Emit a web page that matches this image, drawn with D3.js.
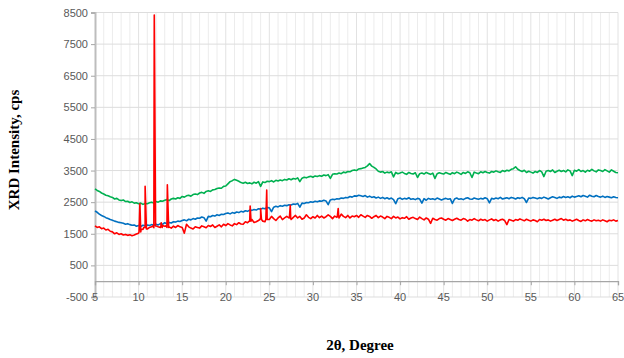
<!DOCTYPE html>
<html>
<head>
<meta charset="utf-8">
<script src="https://cdn.jsdelivr.net/npm/d3@7"></script>
<style>
  body { margin: 0; background: #fff; }
  svg { display: block; }
</style>
</head>
<body>
<div id="chart"></div>
<script>
// 2-theta grid, 0.25 degree steps from 5 to 65
const twoTheta = d3.range(0, 241).map(i => 5 + i * 0.25);

const greenValues = [
  2920, 2870, 2840, 2790, 2760, 2720, 2700, 2670,
  2650, 2600, 2620, 2570, 2550, 2570, 2520, 2530,
  2490, 2510, 2470, 2480, 2450, 2470, 2430, 2460,
  2450, 2480, 2500, 2470, 2520, 2500, 2540, 2530,
  2560, 2580, 2550, 2600, 2620, 2600, 2640, 2620,
  2680, 2660, 2700, 2720, 2690, 2740, 2760, 2740,
  2790, 2810, 2780, 2840, 2860, 2840, 2890, 2900,
  2930, 2950, 2940, 3000, 3010, 3080, 3150, 3180,
  3220, 3190, 3160, 3120, 3100, 3130, 3090, 3110,
  3080, 3130, 3100, 3150, 3000, 3140, 3120, 3160,
  3150, 3180, 3140, 3190, 3170, 3200, 3180, 3220,
  3200, 3240, 3210, 3250, 3230, 3270, 3150, 3260,
  3290, 3270, 3300, 3320, 3290, 3330, 3310, 3340,
  3320, 3360, 3340, 3370, 3250, 3380, 3400, 3390,
  3420, 3400, 3450, 3430, 3470, 3460, 3500, 3520,
  3500, 3550, 3560, 3580, 3600, 3650, 3720, 3640,
  3600, 3550, 3480, 3450, 3470, 3420, 3450, 3430,
  3460, 3300, 3440, 3400, 3420, 3450, 3410, 3380,
  3440, 3410, 3390, 3430, 3280, 3400, 3420, 3390,
  3440, 3410, 3380, 3420, 3250, 3400, 3430, 3410,
  3390, 3440, 3410, 3380, 3430, 3400, 3450, 3420,
  3380, 3440, 3410, 3460, 3430, 3280, 3450, 3420,
  3400, 3460, 3430, 3470, 3440, 3420, 3470, 3450,
  3490, 3460, 3440, 3500, 3470, 3510, 3490, 3540,
  3560, 3620, 3540, 3500, 3470, 3510, 3440, 3480,
  3450, 3420, 3470, 3440, 3500, 3460, 3310, 3480,
  3500, 3470, 3520, 3440, 3480, 3510, 3470, 3500,
  3460, 3520, 3490, 3340, 3510, 3480, 3530, 3470,
  3500, 3450, 3510, 3480, 3540, 3490, 3460, 3520,
  3500, 3470, 3530, 3490, 3450, 3520, 3480, 3440,
  3430
];

const blueValues = [
  2220, 2180, 2120, 2080, 2050, 2010, 1980, 1950,
  1930, 1900, 1880, 1860, 1850, 1830, 1800, 1820,
  1790, 1770, 1780, 1740, 1760, 1730, 1770, 1750,
  1780, 1760, 1790, 1770, 1800, 1780, 1820, 1800,
  1850, 1820, 1860, 1840, 1880, 1870, 1900, 1890,
  1920, 1940, 1910, 1960, 1940, 1980, 1960, 2000,
  1990, 2030, 2010, 1900, 2050, 2040, 2080, 2060,
  2100, 2080, 2120, 2110, 2140, 2160, 2130, 2170,
  2150, 2190, 2170, 2210, 2190, 2230, 2210, 2250,
  2240, 2270, 2250, 2290, 2280, 2310, 2290, 2330,
  2320, 2200, 2340, 2370, 2350, 2390, 2370, 2400,
  2390, 2420, 2410, 2440, 2430, 2460, 2340, 2470,
  2460, 2490, 2480, 2510, 2500, 2530, 2510, 2540,
  2530, 2560, 2540, 2420, 2570, 2590, 2580, 2610,
  2600, 2630, 2620, 2650, 2640, 2680, 2660, 2700,
  2690, 2720, 2700, 2680, 2710, 2660, 2690, 2650,
  2670, 2630, 2660, 2620, 2650, 2610, 2640, 2600,
  2630, 2580, 2450, 2610, 2630, 2590, 2620, 2600,
  2640, 2590, 2610, 2580, 2620, 2600, 2470, 2610,
  2560, 2620, 2590, 2610, 2580, 2630, 2600, 2570,
  2600, 2620, 2590, 2610, 2460, 2600, 2630, 2590,
  2610, 2580, 2620, 2640, 2600, 2590, 2630, 2610,
  2590, 2620, 2600, 2640, 2610, 2480, 2620, 2600,
  2630, 2610, 2650, 2600, 2620, 2640, 2610, 2650,
  2630, 2600, 2640, 2620, 2650, 2610, 2490, 2630,
  2620, 2650, 2630, 2610, 2640, 2620, 2660, 2630,
  2600, 2640, 2670, 2650, 2620, 2660, 2640, 2680,
  2650, 2670, 2640, 2690, 2660, 2680, 2700, 2670,
  2710, 2690, 2660, 2720, 2690, 2670, 2710, 2680,
  2660, 2690, 2650, 2680, 2660, 2640, 2670, 2650,
  2640
];

const redValues = [
  1750, 1700, 1720, 1660, 1680, 1620, 1640, 1580,
  1560, 1500, 1530, 1480, 1500, 1460, 1480, 1450,
  1470, 1440, 1460, 1490, 1520, 1560, 1640, 1700,
  1650, 1700, 1720, 1690, 1750, 1720, 1700, 1760,
  1740, 1700, 1720, 1680, 1740, 1700, 1760, 1720,
  1700, 1520, 1800, 1720, 1680, 1650, 1720, 1700,
  1680, 1750, 1720, 1690, 1760, 1730, 1780, 1700,
  1740, 1780, 1720, 1800, 1760, 1820, 1780, 1750,
  1820, 1790, 1850, 1810, 1800, 1880, 1850, 1900,
  1950, 1860, 1880, 1920, 2000, 1900, 1880, 1950,
  1950, 2050, 1980, 1920, 2000, 2060, 1950, 2000,
  2050, 2000, 1950, 2020, 2080, 2000, 2050, 1960,
  2000, 2100, 2020, 1980, 2040, 2000, 2080, 2010,
  2060, 2000, 2040, 2100, 2050, 1980, 2060, 2020,
  2000, 2120, 2050, 2010, 2080, 2000, 2060, 2040,
  2080, 2020, 2100, 2060, 2020, 2080, 2050, 1990,
  2040, 2080, 2010, 2060, 2030, 1980, 2050, 2020,
  1980, 2050, 2000, 2030, 1970, 2010, 1990, 2040,
  1960, 2000, 2020, 1980, 1950, 2030, 1980, 1940,
  2000, 1960, 1830, 1990, 1950, 1930, 1980, 2000,
  1960, 1930, 1980, 1950, 1920, 1960, 1990, 1950,
  1930, 1980, 1960, 1900, 1950, 1930, 1980, 1940,
  1910, 1960, 1930, 1950, 1900, 1940, 1970, 1920,
  1950, 1900, 1940, 1960, 1920, 1790, 1950, 1930,
  1900, 1950, 1930, 1970, 1940, 1910, 1960, 1930,
  1900, 1940, 1920, 1880, 1950, 1930, 1960, 1920,
  1940, 1900, 1930, 1960, 1920, 1950, 1980, 1930,
  1960, 1920, 1940, 1900, 1930, 1960, 1920, 1890,
  1940, 1910, 1950, 1920, 1900, 1940, 1910, 1930,
  1900, 1940, 1910, 1880, 1930, 1910, 1940, 1900,
  1920
];

// sharp diffraction peaks of the red sample: [2theta, cps]
const redPeaks = [
  [10.05, 1550], [10.15, 2450], [10.3, 1650],
  [10.6, 1700], [10.75, 3000], [10.9, 1650],
  [11.65, 1750], [11.8, 8420], [11.95, 1750],
  [12.55, 1750], [12.6, 1850], [12.7, 1700],
  [13.15, 1750], [13.3, 3050], [13.45, 1700],
  [22.7, 1900], [22.8, 2380], [22.9, 1900],
  [23.9, 1950], [24.0, 2300], [24.1, 1950],
  [24.6, 1950], [24.7, 2880], [24.8, 1950],
  [27.3, 2000], [27.4, 2400], [27.45, 2000],
  [32.8, 2050], [32.9, 2300], [32.95, 2050]
];

const xTicks = [5, 10, 15, 20, 25, 30, 35, 40, 45, 50, 55, 60, 65];
const yTicks = [-500, 500, 1500, 2500, 3500, 4500, 5500, 6500, 7500, 8500];

const width = 624;
const height = 358;

const svg = d3.select('#chart')
  .append('svg')
  .attr('width', width)
  .attr('height', height);

const x = d3.scaleLinear().domain([5, 65]).range([95, 618]);
const y = d3.scaleLinear().domain([-500, 8500]).range([297, 12.5]);

// vertical minor gridlines every degree
svg.append('g')
  .selectAll('line')
  .data(d3.range(6, 65.5, 1))
  .enter()
  .append('line')
  .attr('x1', d => x(d)).attr('x2', d => x(d))
  .attr('y1', y(8500)).attr('y2', y(-500))
  .attr('stroke', d => d % 5 === 0 ? '#e2e2e2' : '#ececec')
  .attr('stroke-width', 1);

// horizontal gridlines
svg.append('g')
  .selectAll('line')
  .data(yTicks)
  .enter()
  .append('line')
  .attr('x1', x(5)).attr('x2', x(65))
  .attr('y1', d => y(d)).attr('y2', d => y(d))
  .attr('stroke', '#dddddd')
  .attr('stroke-width', 1);

// y axis
const yAxis = svg.append('g')
  .attr('transform', `translate(${x(5)},0)`)
  .call(d3.axisLeft(y).tickValues(yTicks).tickSize(4).tickPadding(3)
    .tickFormat(d => String(d)));
yAxis.select('.domain').attr('stroke', '#bdbdbd').attr('stroke-width', 2);
yAxis.selectAll('.tick line').attr('stroke', '#a6a6a6');
yAxis.selectAll('text')
  .attr('fill', '#595959')
  .style('font', '11px "Liberation Sans", Arial, sans-serif');

// x axis sits at y = 0, labels low
const xAxis = svg.append('g')
  .attr('transform', `translate(0,${y(0)})`)
  .call(d3.axisBottom(x).tickValues(xTicks).tickSize(4).tickFormat(() => ''));
xAxis.select('.domain').attr('stroke', '#a6a6a6').attr('stroke-width', 1.3);
xAxis.selectAll('.tick line').attr('stroke', '#a6a6a6');

svg.append('g')
  .selectAll('text')
  .data(xTicks)
  .enter()
  .append('text')
  .attr('x', d => x(d))
  .attr('y', y(-500) + 4)
  .attr('text-anchor', 'middle')
  .attr('fill', '#595959')
  .style('font', '11px "Liberation Sans", Arial, sans-serif')
  .text(d => d);

const line = d3.line()
  .x(d => x(d[0]))
  .y(d => y(d[1]));

const blueData = twoTheta.map((t, i) => [t, blueValues[i]]);
const greenData = twoTheta.map((t, i) => [t, greenValues[i]]);
const redData = twoTheta.map((t, i) => [t, redValues[i]])
  .concat(redPeaks)
  .sort((a, b) => a[0] - b[0]);

const series = [
  {data: blueData, color: '#0070c0'},
  {data: greenData, color: '#00b050'},
  {data: redData, color: '#ff0000'}
];

svg.append('g')
  .selectAll('path')
  .data(series)
  .enter()
  .append('path')
  .attr('d', d => line(d.data))
  .attr('fill', 'none')
  .attr('stroke', d => d.color)
  .attr('stroke-width', 1.6)
  .attr('stroke-linejoin', 'round');

// axis titles
svg.append('text')
  .attr('transform', `translate(19,150) rotate(-90)`)
  .attr('text-anchor', 'middle')
  .style('font', 'bold 15px "Liberation Serif", "Times New Roman", serif')
  .attr('fill', '#000')
  .text('XRD Intensity, cps');

svg.append('text')
  .attr('x', 360)
  .attr('y', 350)
  .attr('text-anchor', 'middle')
  .style('font', 'bold 15px "Liberation Serif", "Times New Roman", serif')
  .attr('fill', '#000')
  .text('2θ, Degree');
</script>
</body>
</html>
